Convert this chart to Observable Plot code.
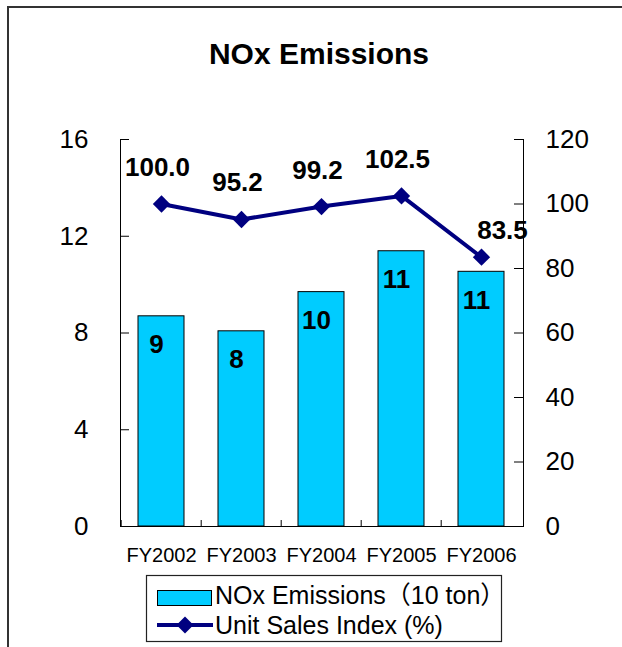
<!DOCTYPE html>
<html>
<head>
<meta charset="utf-8">
<script src="https://cdn.jsdelivr.net/npm/d3@7"></script>
<script src="https://cdn.jsdelivr.net/npm/@observablehq/plot@0.6"></script>
<style>
  html, body { margin: 0; padding: 0; background: #fff; }
  #wrap { position: relative; width: 622px; height: 647px; overflow: hidden; background: #fff;
          font-family: "Liberation Sans", Arial, "Noto Sans CJK JP", sans-serif; }
  #frame { position: absolute; left: 7px; top: 6px; width: 700px; height: 700px;
           border-top: 2px solid #333; border-left: 2px solid #333; }
  #title { position: absolute; left: 0; top: 39px; width: 638px; text-align: center;
           font-size: 30px; line-height: 30px; font-weight: bold; color: #000; }
  #chart svg { position: absolute; left: 0; top: 100px; }
  #legend { position: absolute; left: 146px; top: 575px; overflow: visible; }
</style>
</head>
<body>
<div id="wrap">
  <div id="frame"></div>
  <div id="title">NOx Emissions</div>
  <div id="chart"></div>
  <svg id="legend" width="400" height="70" font-family="Liberation Sans, Arial, 'Noto Sans CJK JP', sans-serif">
    <rect x="0.5" y="0.5" width="355" height="66" fill="#fff" stroke="#222" stroke-width="1.2"></rect>
    <rect x="11.5" y="15.5" width="54" height="15" fill="#00CCFF" stroke="#000" stroke-width="1"></rect>
    <text id="lg1" x="69" y="29" font-size="25" fill="#000"></text>
    <line x1="11" x2="67" y1="50" y2="50" stroke="#000080" stroke-width="4"></line>
    <path d="M39,41.5L47.5,50L39,58.5L30.5,50Z" fill="#000080"></path>
    <text id="lg2" x="69" y="59" font-size="25" fill="#000"></text>
  </svg>
</div>
<script>
// ---- data ----
const years = ["FY2002", "FY2003", "FY2004", "FY2005", "FY2006"];
const noxEmissions = [8.69, 8.07, 9.69, 11.38, 10.53];      // 10 ton
const unitSalesIndex = [100.0, 95.2, 99.2, 102.5, 83.5];     // %
const leftTicks = [0, 4, 8, 12, 16];
const rightTicks = [0, 20, 40, 60, 80, 100, 120];
const seriesNames = ["NOx Emissions（10 ton）", "Unit Sales Index (%)"];

document.getElementById("lg1").textContent = seriesNames[0];
document.getElementById("lg2").textContent = seriesNames[1];

const data = years.map((year, i) => ({year, nox: noxEmissions[i], idx: unitSalesIndex[i]}));
const k = 16 / 120; // right axis -> left axis units

const W = 622, H = 470, mL = 120, mR = 99, mT = 39, mB = 44;
const pw = W - mL - mR, ph = H - mT - mB;
const step = pw / years.length;
const font = "Liberation Sans, Arial, sans-serif";

const chart = Plot.plot({
  width: W, height: H,
  marginLeft: mL, marginRight: mR, marginTop: mT, marginBottom: mB,
  style: {fontFamily: font, background: "transparent", overflow: "visible", color: "#000"},
  x: {domain: years, paddingInner: 0.42, paddingOuter: 0.21, label: null},
  y: {domain: [0, 16], label: null},
  marks: [
    Plot.barY(data, {x: "year", y: "nox", fill: "#00CCFF", stroke: "#000", strokeWidth: 1}),
    Plot.frame({anchor: "left", stroke: "#000"}),
    Plot.frame({anchor: "right", stroke: "#000"}),
    Plot.ruleY([0], {stroke: "#000"}),
    Plot.tickY(leftTicks, {y: d => d, insetRight: pw - 9, stroke: "#000"}),
    Plot.tickY(rightTicks, {y: d => d * k, insetLeft: pw - 9, stroke: "#000"}),
    Plot.tickX(years, {x: d => d, dx: -step / 2, insetTop: ph - 6, stroke: "#000"}),
    Plot.axisY({ticks: leftTicks, anchor: "left", tickSize: 0, tickPadding: 32, fontSize: 26, label: null}),
    Plot.axisY({ticks: rightTicks.map(v => v * k), tickFormat: d => Math.round(d / k), anchor: "right",
                tickSize: 0, tickPadding: 22, fontSize: 26, label: null}),
    Plot.axisX({tickSize: 0, tickPadding: 21, fontSize: 20, label: null}),
    Plot.text(data, {x: "year", y: "nox", text: d => d3.format(".0f")(d.nox), lineAnchor: "bottom",
                     dy: 37, dx: -5, fontSize: 26, fontWeight: "bold", fill: "#000"}),
    Plot.line(data, {x: "year", y: d => d.idx * k, stroke: "#000080", strokeWidth: 4}),
    Plot.dot(data, {x: "year", y: d => d.idx * k, symbol: "diamond2", r: 7.8, fill: "#000080", stroke: "none"}),
    Plot.text(data, {filter: (d, i) => i < years.length - 1, x: "year", y: d => d.idx * k,
                     text: d => d3.format(".1f")(d.idx), lineAnchor: "bottom", dy: -28, dx: -4,
                     fontSize: 26, fontWeight: "bold", fill: "#000"}),
    Plot.text(data, {filter: (d, i) => i === years.length - 1, x: "year", y: d => d.idx * k,
                     text: d => d3.format(".1f")(d.idx), lineAnchor: "bottom", dy: -18, dx: 21,
                     fontSize: 26, fontWeight: "bold", fill: "#000"})
  ]
});
document.getElementById("chart").appendChild(chart);
</script>
</body>
</html>
